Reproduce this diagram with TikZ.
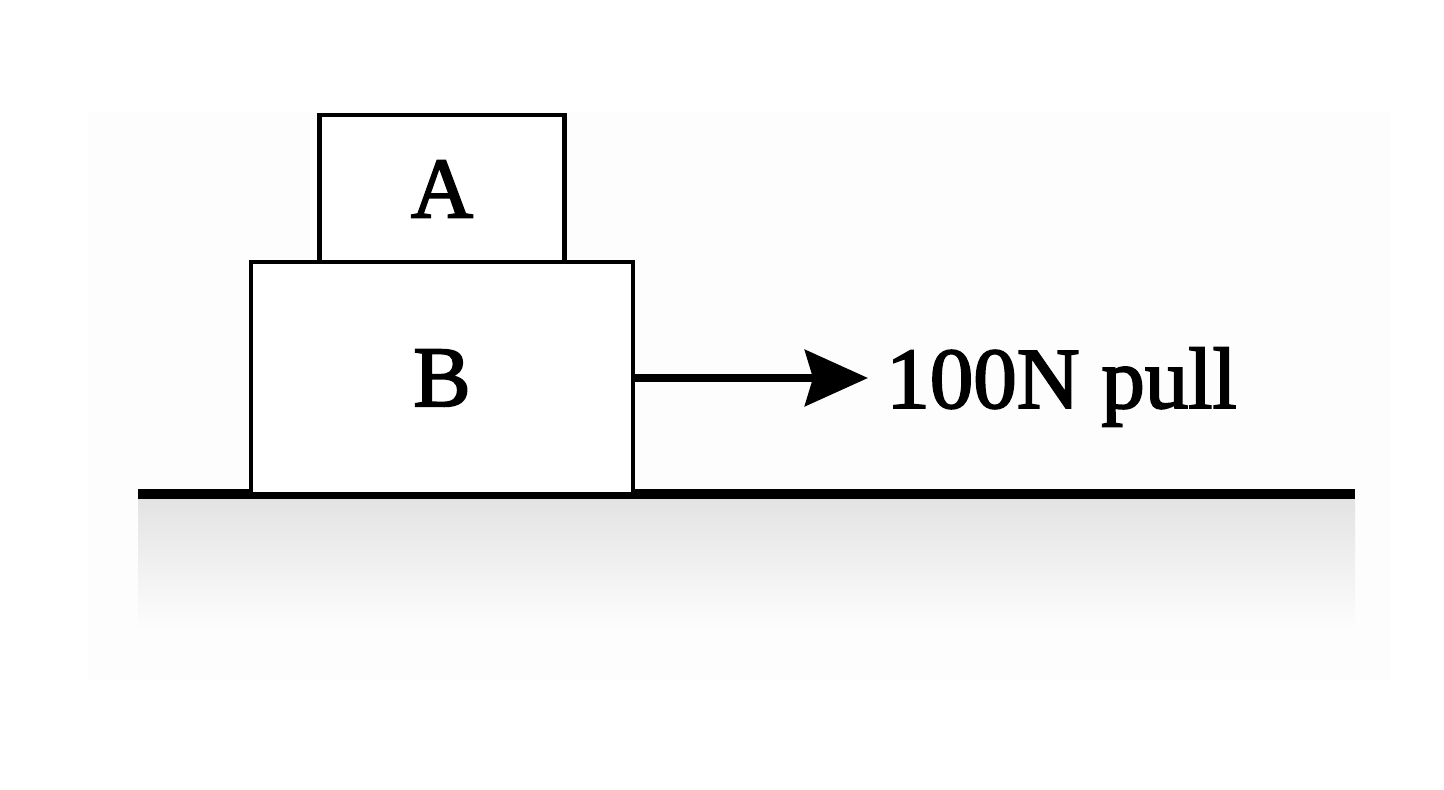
\documentclass[tikz,border=0pt]{standalone}
\usepackage{fontspec}
\setmainfont{Liberation Serif}
\newfontfamily\semiserif[FakeBold=2.2]{Liberation Serif}
\usetikzlibrary{arrows.meta}
\begin{document}
\begin{tikzpicture}[x=0.02cm,y=-0.02cm,
  blockbox/.style={draw=black,line width=0.095cm,fill=white,inner sep=0pt,
    font=\semiserif\fontsize{49}{51}\selectfont},
  groundline/.style={line width=0.21cm,line cap=butt},
  forcearrow/.style={line width=0.16cm,-{Stealth[length=1.26cm,width=1.12cm,inset=0.16cm]}},
  forcelabel/.style={inner sep=0pt,anchor=base west,font=\semiserif\fontsize{49.5}{51}\selectfont}]
\useasboundingbox (0,0) rectangle (1444,790);
% faint background
\fill[black!0.7] (88,112) rectangle (1390,680);
% ground shading
\shade[top color=black!11,bottom color=black!0.7,draw=none] (138,499) rectangle (1355,630);
% ground
\draw[groundline] (138,494) coordinate (gl) -- (1355,494) coordinate (gr);
% blocks
\node[blockbox,minimum width=245*0.02cm,minimum height=148*0.02cm] (A) at (442,189) {A};
\node[blockbox,minimum width=382*0.02cm,minimum height=232*0.02cm] (B) at (442,378) {B};
% force
\node[forcelabel] (F) at (886,408) {100N pull};
\coordinate (tip) at (868,378);
\draw[forcearrow] (B.east) -- (tip);
\end{tikzpicture}
\end{document}
